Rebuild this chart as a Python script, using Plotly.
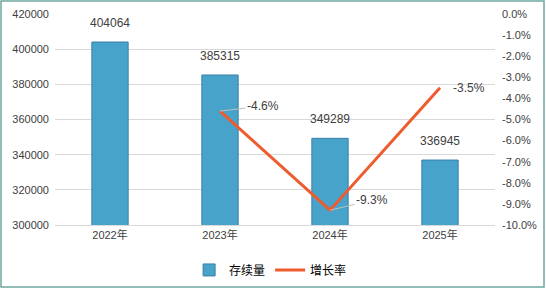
import plotly.graph_objects as go

categories = ["2022年", "2023年", "2024年", "2025年"]
stock = [404064, 385315, 349289, 336945]
growth = [None, -4.6, -9.3, -3.5]
growth_labels = ["", "-4.6%", "-9.3%", "-3.5%"]
left_ticks = [300000, 320000, 340000, 360000, 380000, 400000, 420000]
right_ticks = [0, -1, -2, -3, -4, -5, -6, -7, -8, -9, -10]

FONT = "Liberation Sans, Arial, Noto Sans CJK SC, sans-serif"
TXT = "#404040"

fig = go.Figure()
fig.add_trace(go.Bar(
    x=categories, y=stock, name="存续量",
    width=0.33,
    marker=dict(color="#48A3CB", line=dict(color="#3A7FA8", width=1)),
))
fig.add_trace(go.Scatter(
    x=categories, y=growth, name="增长率", yaxis="y2",
    mode="lines", line=dict(color="#EE5B2C", width=3),
))

for i, v in enumerate(stock):
    fig.add_annotation(
        x=categories[i], y=v, xref="x", yref="y", text=str(v),
        showarrow=False, yshift=19,
        font=dict(size=12, color=TXT, family=FONT),
    )

offsets = {1: (43, -5), 2: (42, -10), 3: (29, 0)}
for i, lab in enumerate(growth_labels):
    if growth[i] is None:
        continue
    ax, ay = offsets[i]
    fig.add_annotation(
        x=categories[i], y=growth[i], xref="x", yref="y2",
        text=lab, showarrow=(i != 3), arrowhead=0, arrowwidth=1,
        arrowcolor="#BFBFBF", standoff=0, ax=ax, ay=ay,
        xshift=0 if i != 3 else ax, yshift=0,
        font=dict(size=12, color=TXT, family=FONT),
    )

fig.update_layout(
    width=546, height=290,
    margin=dict(l=55, r=51, t=14, b=65, autoexpand=False),
    paper_bgcolor="white", plot_bgcolor="white",
    font=dict(family=FONT, size=11, color=TXT),
    showlegend=True,
    legend=dict(orientation="h", x=0.49, xanchor="center", y=-0.213, yanchor="middle",
                font=dict(size=12, color="#000000", family=FONT),
                itemwidth=30, tracegroupgap=0),
    xaxis=dict(type="category", showgrid=False, showline=True, linecolor="#D9D9D9",
               ticks="", tickfont=dict(size=11, color=TXT)),
    yaxis=dict(range=[300000, 420000], tickvals=left_ticks,
               ticktext=[str(v) for v in left_ticks],
               showgrid=True, gridcolor="#D9D9D9", gridwidth=1, zeroline=False,
               ticks="", ticklabelstandoff=5, tickfont=dict(size=11, color=TXT)),
    yaxis2=dict(range=[-10, 0], overlaying="y", side="right",
                tickvals=right_ticks, ticktext=[f"{v:.1f}%" for v in right_ticks],
                showgrid=False, zeroline=False, ticks="", ticklabelstandoff=6,
                tickfont=dict(size=11, color=TXT)),
    bargap=0.67,
)

fig.add_shape(type="rect", xref="paper", yref="paper",
              x0=-54/440, x1=1+49/440, y0=-62/211, y1=1+13/211,
              line=dict(color="#6FA8A0", width=1.5), fillcolor="rgba(0,0,0,0)")

fig.write_html("out.html")
